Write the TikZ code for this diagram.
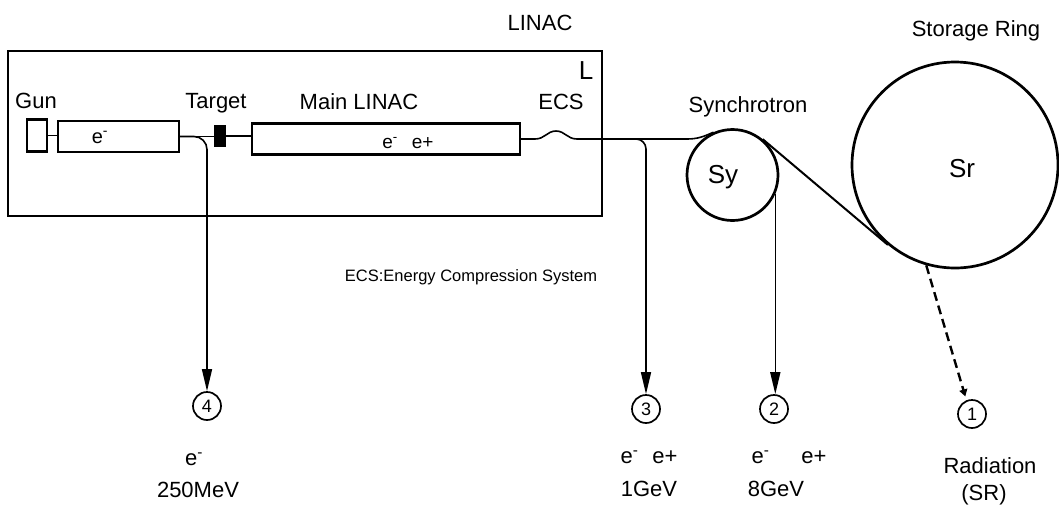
\documentclass[tikz,border=0pt]{standalone}
\usepackage{fontspec}
\setmainfont{Liberation Sans}
\usetikzlibrary{arrows.meta,calc}
\begin{document}
\begin{tikzpicture}[x=1pt,y=-1pt,
  lbl/.style={font=\fontsize{22}{24}\selectfont, inner sep=0pt, anchor=base},
  small/.style={font=\fontsize{16.5}{19}\selectfont, inner sep=0pt, anchor=base},
  box/.style={draw, line width=2.4pt, inner sep=0pt},
  beam/.style={line width=1.6pt},
  ring/.style={draw, circle, line width=2.7pt, inner sep=0pt},
  numc/.style={draw, circle, line width=1.7pt, minimum size=28pt, inner sep=0pt, font=\fontsize{18}{20}\selectfont},
  arr/.style={beam, -{Triangle[length=22pt,width=10pt]}},
  darr/.style={line width=2.4pt, dash pattern=on 9pt off 5pt, -{Triangle[length=7pt,width=8pt]}},
]
\useasboundingbox (0,0) rectangle (1059,504);

% LINAC enclosure
\node[draw, line width=2pt, inner sep=0pt, minimum width=594pt, minimum height=165pt, anchor=north west] (linacbox) at (7,50) {};
\node[lbl] (tlinac) at (540,30) {LINAC};
\node[font=\fontsize{26}{28}\selectfont, inner sep=0pt, anchor=base] (tL) at (586,79) {L};

% components
\node[box, minimum width=20pt, minimum height=32pt] (gun) at (37,135.5) {};
\node[box, minimum width=121pt, minimum height=31pt] (ebox) at (118.5,136.5) {};
\node[draw, fill=black, line width=0.5pt, inner sep=0pt, minimum width=11pt, minimum height=21pt] (target) at (219.5,136) {};
\node[box, minimum width=268pt, minimum height=31pt] (main) at (386,139) {};

\node[lbl, font=\fontsize{20}{22}\selectfont] (etxt) at (100,143) {e\textsuperscript{-}};
\node[lbl, font=\fontsize{19}{21}\selectfont] (mtxt) at (408,148) {e\textsuperscript{-}\hspace{14pt}e+};

\node[lbl] (tgun) at (36,108) {Gun};
\node[lbl] (ttarget) at (216,108) {Target};
\node[lbl] (tmain) at (359,109) {Main LINAC};
\node[lbl] (tecs) at (561,109) {ECS};

% rings
\node[ring, minimum size=91pt] (Sy) at (732.5,175) {};
\node[ring, minimum size=206pt] (Sr) at (955,165) {};
\node[font=\fontsize{26}{28}\selectfont, inner sep=0pt, anchor=base] (sylbl) at (723,183) {Sy};
\node[font=\fontsize{26}{28}\selectfont, inner sep=0pt, anchor=base] (srlbl) at (962,177) {Sr};
\node[lbl] (tsyn) at (748,112) {Synchrotron};
\node[lbl] (tsr) at (976,36) {Storage Ring};

\node[small] (tnote) at (471,281) {ECS:Energy Compression System};

% output ports
\node[numc] (c4) at (207,406) {4};
\node[numc] (c3) at (646,409) {3};
\node[numc] (c2) at (774,409) {2};
\node[numc] (c1) at (972,414) {1};

% beam line
\coordinate (ecsL) at (535,139);
\coordinate (ecsTop) at (556,131);
\coordinate (ecsR) at (577,139);
\coordinate (synin) at (687,139);

\draw[beam] (gun.east) -- (gun.east -| ebox.west);
\draw[beam] (ebox.east) -- (ebox.east -| target.west);
\draw[beam] (target.east) -- (target.east -| main.west);
\draw[beam] (main.east) -- (ecsL) .. controls (545,139) and (547,131) .. (ecsTop)
  .. controls (565,131) and (567,139) .. (ecsR) -- (synin) to[out=0,in=204] (Sy.114);
\draw[line width=2pt] (Sy.50.75) -- (Sr.230.75);

% extraction lines
\draw[arr, rounded corners=13pt] (ebox.east) -| (c4);
\draw[arr, rounded corners=10pt] (ecsR) -| (c3);
\draw[arr] (Sy.-24) -- (Sy.-24 |- c2.north);
\draw[darr, shorten >=4pt] (Sr.254) -- (c1.112);

% bottom labels
\node[lbl] (l4a) at (194,465) {e\textsuperscript{-}};
\node[lbl] (l4b) at (198,497) {250MeV};
\node[lbl] (l3a) at (649,463) {e\textsuperscript{-}\hspace{14pt}e+};
\node[lbl] (l3b) at (649,496) {1GeV};
\node[lbl] (l2a) at (789,463) {e\textsuperscript{-}\hspace{32pt}e+};
\node[lbl] (l2b) at (776,496) {8GeV};
\node[lbl] (l1a) at (990,473) {Radiation};
\node[lbl] (l1b) at (984,500) {(SR)};
\end{tikzpicture}
\end{document}
